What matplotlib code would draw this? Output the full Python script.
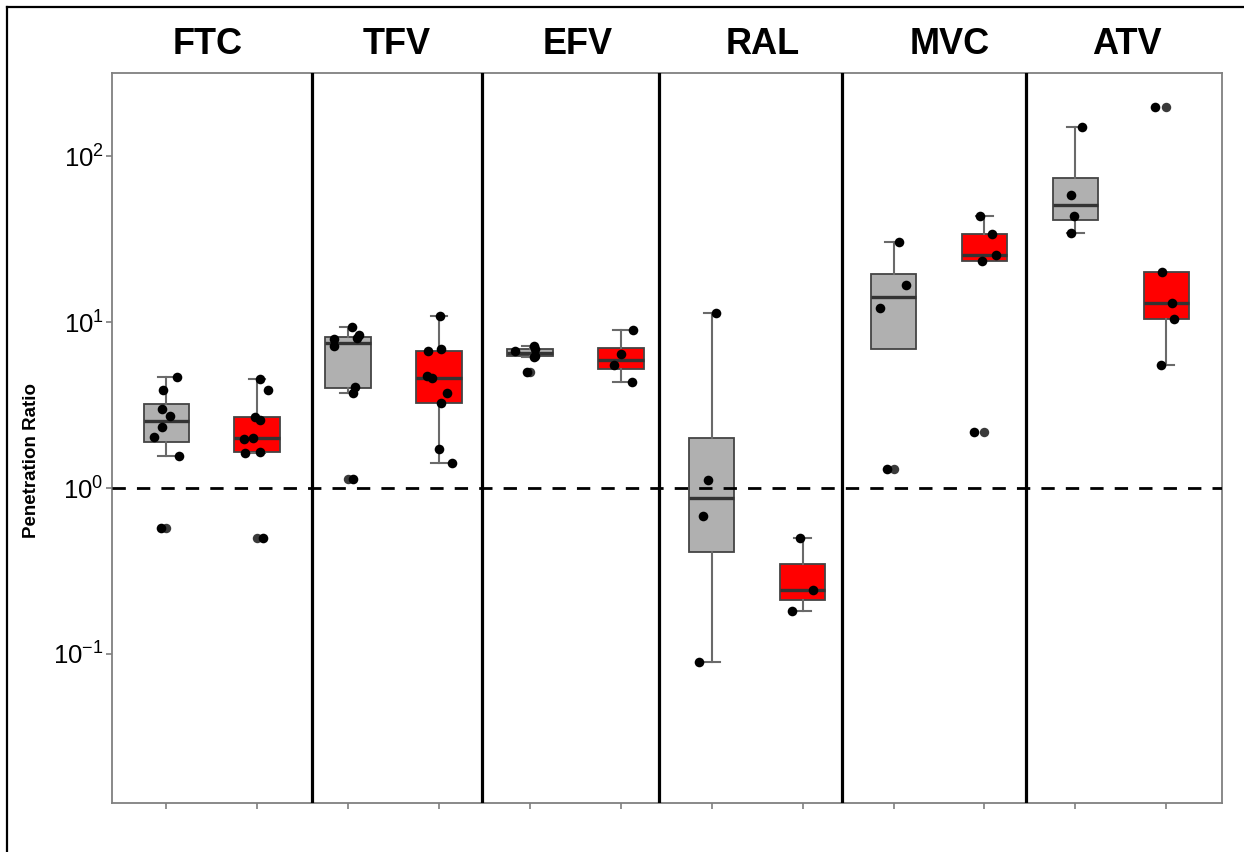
import numpy as np
import matplotlib
matplotlib.use('Agg')
import matplotlib.pyplot as plt
from matplotlib import cbook
from matplotlib.lines import Line2D
from matplotlib.transforms import blended_transform_factory

plt.rcParams['font.family'] = ['Liberation Sans', 'DejaVu Sans']
plt.rcParams['mathtext.fontset'] = 'custom'
plt.rcParams['mathtext.rm'] = 'Liberation Sans'

# ---------------- data ----------------
drugs = ['FTC', 'TFV', 'EFV', 'RAL', 'MVC', 'ATV']
group_colors = ['#b0b0b0', '#ff0000']

ftc_gray = [4.64, 3.89, 3.00, 2.73, 2.34, 2.02, 1.56, 0.572]
ftc_red = [4.54, 3.88, 2.69, 2.57, 2.01, 1.97, 1.65, 1.62, 0.498]
tfv_gray = [9.37, 8.4, 8.0, 7.87, 7.17, 4.08, 3.72, 1.14]
tfv_red = [10.9, 6.85, 6.69, 4.73, 4.62, 3.72, 3.24, 1.73, 1.42]
efv_gray = [7.22, 6.92, 6.69, 6.28, 6.20, 5.02]
efv_red = [8.95, 6.39, 5.51, 4.33]
ral_gray = [11.3, 1.12, 0.678, 0.0899]
ral_red = [0.502, 0.243, 0.182]
mvc_gray = [30.2, 16.7, 12.1, 1.30]
mvc_red = [43.7, 33.8, 25.3, 23.3, 2.17]
atv_gray = [149, 58.2, 43.7, 34.5]
atv_red = [198, 19.9, 12.97, 10.5, 5.51]

# horizontal jitter of each point
ftc_gray_jit = [0.114, -0.033, -0.047, 0.041, -0.047, -0.132, 0.143, -0.058]
ftc_red_jit = [0.03, 0.114, -0.022, 0.03, -0.044, -0.146, 0.03, -0.132, 0.059]
tfv_gray_jit = [0.043, 0.123, 0.098, -0.152, -0.152, 0.079, 0.057, 0.05]
tfv_red_jit = [0.013, 0.024, -0.116, -0.133, -0.078, 0.087, 0.024, 0.005, 0.142]
efv_gray_jit = [0.044, 0.055, -0.165, 0.055, 0.05, -0.036]
efv_red_jit = [0.129, -0.003, -0.074, 0.118]
ral_gray_jit = [0.052, -0.036, -0.096, -0.14]
ral_red_jit = [-0.028, 0.112, -0.112]
mvc_gray_jit = [0.062, 0.132, -0.151, -0.074]
mvc_red_jit = [-0.044, 0.08, 0.129, -0.025, -0.118]
atv_gray_jit = [0.074, -0.047, -0.011, -0.047]
atv_red_jit = [-0.124, -0.044, 0.059, 0.088, -0.062]

series = [ftc_gray, ftc_red, tfv_gray, tfv_red, efv_gray, efv_red,
          ral_gray, ral_red, mvc_gray, mvc_red, atv_gray, atv_red]
jitters = [ftc_gray_jit, ftc_red_jit, tfv_gray_jit, tfv_red_jit, efv_gray_jit, efv_red_jit,
           ral_gray_jit, ral_red_jit, mvc_gray_jit, mvc_red_jit, atv_gray_jit, atv_red_jit]

ytick_vals = [0.1, 1, 10, 100]
ytick_labels = [r'$\mathregular{10^{-1}}$', r'$\mathregular{10^{0}}$',
                r'$\mathregular{10^{1}}$', r'$\mathregular{10^{2}}$']
ylabel = 'Penetration Ratio'

# ---------------- layout ----------------
W, H = 1244, 852
fig = plt.figure(figsize=(W / 100, H / 100), dpi=100)
ax = fig.add_axes([112 / W, 1 - 803 / H, (1222 - 112) / W, (803 - 72.7) / H])
ax.set_yscale('log')

positions = np.arange(1, len(series) + 1)

# box stats computed on log10 scale (as ggplot with log10 scale)
stats = []
for vals in series:
    s = cbook.boxplot_stats(np.log10(vals), whis=1.5)[0]
    for k in ['med', 'q1', 'q3', 'whislo', 'whishi', 'mean']:
        s[k] = 10 ** s[k]
    s['fliers'] = 10 ** np.asarray(s['fliers'])
    stats.append(s)

bp = ax.bxp(stats, positions=positions, widths=0.5, capwidths=0.18,
            patch_artist=True, showfliers=True,
            boxprops=dict(edgecolor='#444444', linewidth=1.3),
            medianprops=dict(color='#333333', linewidth=2.4),
            whiskerprops=dict(color='#6a6a6a', linewidth=1.5),
            capprops=dict(color='#6a6a6a', linewidth=1.5),
            flierprops=dict(marker='o', markerfacecolor='#3a3a3a',
                            markeredgecolor='none', markersize=6.8))
for i, patch in enumerate(bp['boxes']):
    patch.set_facecolor(group_colors[i % 2])
    patch.set_zorder(2)

# hide caps of zero-length whiskers (ggplot draws none there)
for i, s in enumerate(stats):
    if np.isclose(s['whislo'], s['q1']):
        bp['caps'][2 * i].set_visible(False)
    if np.isclose(s['whishi'], s['q3']):
        bp['caps'][2 * i + 1].set_visible(False)

for pos, vals, jit in zip(positions, series, jitters):
    ax.scatter(pos + np.asarray(jit), vals, s=48, color='black', zorder=4,
               linewidths=0)

# dashed reference line at 1
ax.axhline(1, color='black', linewidth=2.0, dashes=(4.8, 4.0), zorder=3)

# panel dividers
dividers_px = [312, 482, 659, 842, 1026]
for px in dividers_px:
    ax.axvline(1 + (px - 166.3) / 90.91, color='black', linewidth=2.3, zorder=5)

ax.set_xlim(0.403, 12.613)
ax.set_ylim(0.01265, 318)

ax.set_yticks(ytick_vals)
ax.set_yticklabels(ytick_labels, fontsize=18.5)
ax.yaxis.set_minor_locator(matplotlib.ticker.NullLocator())
ax.set_xticks(positions)
ax.set_xticklabels([''] * len(positions))
ax.tick_params(axis='both', color='#7f7f7f', length=4, width=1.2, pad=2)
for sp in ax.spines.values():
    sp.set_color('#808080')
    sp.set_linewidth(1.3)

# facet titles
title_px = [207.5, 397, 578, 763, 950, 1127]
trans = blended_transform_factory(ax.transData, fig.transFigure)
for name, px in zip(drugs, title_px):
    ax.text(1 + (px - 166.3) / 90.91, 1 - 45 / H, name, transform=trans,
            ha='center', va='center', fontsize=26, fontweight='bold')

fig.text(32 / W, 1 - 460 / H, ylabel, rotation=90, ha='center', va='center',
         fontsize=13.5, fontweight='bold')

# outer frame (top and left)
fig.add_artist(Line2D([7 / W, 1], [1 - 7 / H, 1 - 7 / H], transform=fig.transFigure,
                      color='black', linewidth=1.6))
fig.add_artist(Line2D([7 / W, 7 / W], [0, 1 - 7 / H], transform=fig.transFigure,
                      color='black', linewidth=1.6))

fig.savefig('out.png', dpi=100)
